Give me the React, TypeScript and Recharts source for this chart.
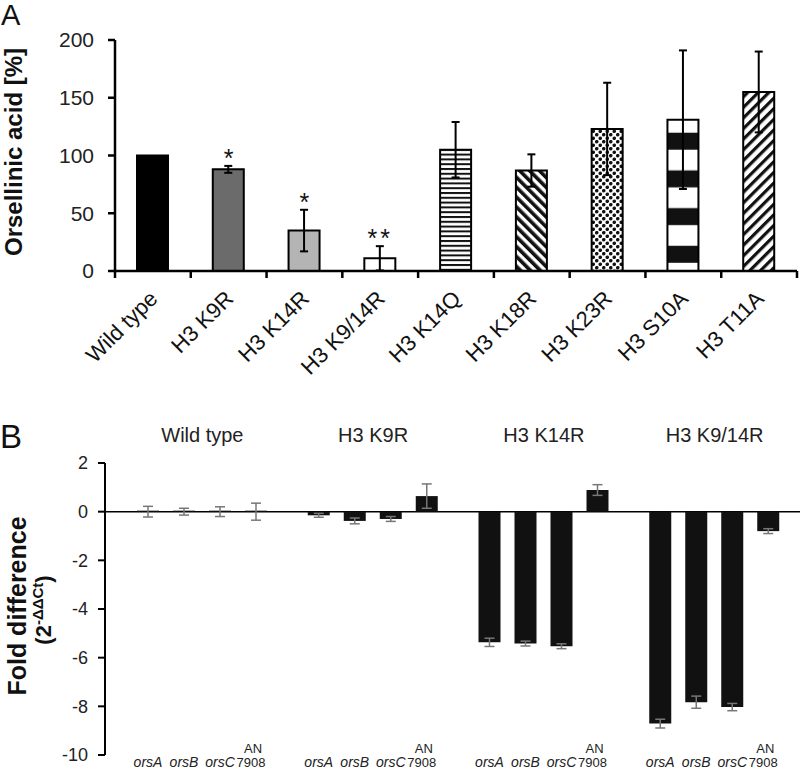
import React from "react";
import {
  ComposedChart,
  Bar,
  Line,
  XAxis,
  YAxis,
  ErrorBar,
  Cell,
  LabelList,
  CartesianGrid,
} from "recharts";

// panel A: orsellinic acid per strain
const strains = [
  "Wild type",
  "H3 K9R",
  "H3 K14R",
  "H3 K9/14R",
  "H3 K14Q",
  "H3 K18R",
  "H3 K23R",
  "H3 S10A",
  "H3 T11A",
];
const orsellinic = [100, 88, 35, 11, 105, 87, 123, 131, 155];
const orsellinicErr = [0, 3, 18, 10.5, 24, 14, 40, 60, 35];
const significance = ["", "*", "*", "**", "", "", "", "", ""];
const yTicksA = [0, 50, 100, 150, 200];

// panel B: fold difference per gene
const groups = ["Wild type", "H3 K9R", "H3 K14R", "H3 K9/14R"];
const orsA = [0, -0.15, -5.37, -8.71];
const orsAErr = [0.22, 0.08, 0.17, 0.18];
const orsB = [0, -0.38, -5.42, -7.83];
const orsBErr = [0.14, 0.12, 0.1, 0.25];
const orsC = [0, -0.3, -5.53, -8.03];
const orsCErr = [0.2, 0.1, 0.1, 0.15];
const an7908 = [0, 0.64, 0.89, -0.8];
const an7908Err = [0.35, 0.5, 0.22, 0.1];
const yTicksB = [2, 0, -2, -4, -6, -8, -10];

const FONT = "'Liberation Sans', Arial, sans-serif";

const fillsA = [
  "#000",
  "#6b6b6b",
  "#b4b4b4",
  "#fff",
  "url(#hstripe)",
  "url(#diagDown)",
  "url(#dots)",
  "url(#bands)",
  "url(#diagUp)",
];

const dataA = strains.map((name, i) => ({
  name,
  value: orsellinic[i],
  err: orsellinicErr[i],
  sigTop: significance[i] ? orsellinic[i] + orsellinicErr[i] : null,
}));

const dataB = groups.map((group, i) => ({
  group,
  orsA: orsA[i],
  orsAErr: orsAErr[i],
  orsB: orsB[i],
  orsBErr: orsBErr[i],
  orsC: orsC[i],
  orsCErr: orsCErr[i],
  an7908: an7908[i],
  an7908Err: an7908Err[i],
}));

const A_W = 800;
const A_LEFT = 115;
const A_RIGHT = 3;
const bandA = (A_W - A_LEFT - A_RIGHT) / strains.length;

function StrainTick(props: any) {
  const { x, y, payload, index } = props;
  const last = index === strains.length - 1;
  return (
    <g>
      <line x1={x - bandA / 2} x2={x - bandA / 2} y1={y} y2={y + 7} stroke="#000" strokeWidth={2.5} />
      {last && <line x1={x + bandA / 2} x2={x + bandA / 2} y1={y} y2={y + 7} stroke="#000" strokeWidth={2.5} />}
      <g transform={`translate(${x + 6},${y + 29})`}>
        <text transform="rotate(-45)" textAnchor="end" fontSize={22} fill="#111" fontFamily={FONT}>
          {payload.value}
        </text>
      </g>
    </g>
  );
}

function SigLabel(props: any) {
  const vb = props.viewBox ?? props;
  const idx = props.index;
  const text = significance[idx];
  if (!text || vb.y == null || isNaN(vb.y)) return null;
  return (
    <text
      x={vb.x}
      y={vb.y + 1}
      textAnchor="middle"
      fontSize={25}
      letterSpacing={text.length > 1 ? 3 : 0}
      fill="#111"
      fontFamily={FONT}
    >
      {text}
    </text>
  );
}

function YLabelA() {
  return (
    <text
      transform="translate(22,152) rotate(-90)"
      textAnchor="middle"
      fontSize={24}
      fontWeight="bold"
      fill="#111"
      fontFamily={FONT}
    >
      Orsellinic acid [%]
    </text>
  );
}

function YLabelB() {
  return (
    <g>
      <text
        transform="translate(26,186) rotate(-90)"
        textAnchor="middle"
        fontSize={25}
        fontWeight="bold"
        fill="#111"
        fontFamily={FONT}
      >
        Fold difference
      </text>
      <text
        transform="translate(51,190) rotate(-90)"
        textAnchor="middle"
        fontSize={22}
        fontWeight="bold"
        fill="#111"
        fontFamily={FONT}
      >
        (2
        <tspan fontSize={15} dy={-8}>
          -ΔΔCt
        </tspan>
        <tspan dy={8}>)</tspan>
      </text>
    </g>
  );
}

function GroupTick(props: any) {
  const { x, payload } = props;
  return (
    <text x={x} y={22} textAnchor="middle" fontSize={20} fill="#222" fontFamily={FONT}>
      {payload.value}
    </text>
  );
}

function geneLabel(name: string) {
  return (props: any) => {
    const vb = props.viewBox ?? props;
    const cx = vb.x + vb.width / 2;
    if (name === "AN7908") {
      return (
        <g fontFamily={FONT} fill="#222" fontSize={13} textAnchor="middle">
          <text x={cx - 3} y={333}>AN</text>
          <text x={cx - 5} y={347}>7908</text>
        </g>
      );
    }
    return (
      <text x={cx} y={347} textAnchor="middle" fontSize={14} fontStyle="italic" fill="#222" fontFamily={FONT}>
        {name}
      </text>
    );
  };
}

const seriesB = [
  { key: "orsA", label: "orsA" },
  { key: "orsB", label: "orsB" },
  { key: "orsC", label: "orsC" },
  { key: "an7908", label: "AN7908" },
];

export default function App() {
  return (
    <div
      style={{
        position: "absolute",
        left: 0,
        top: 0,
        width: 800,
        height: 774,
        background: "#fff",
        fontFamily: FONT,
        overflow: "hidden",
      }}
    >
      <div style={{ position: "absolute", left: 1, top: 1, fontSize: 29, lineHeight: 1, color: "#111" }}>A</div>
      <div style={{ position: "absolute", left: 0, top: 420, fontSize: 33, lineHeight: 1, color: "#111" }}>B</div>

      <div style={{ position: "absolute", left: 0, top: 0 }}>
        <ComposedChart
          width={A_W}
          height={400}
          data={dataA}
          margin={{ top: 40, right: A_RIGHT, left: 0, bottom: 0 }}
          barCategoryGap="30%"
        >
          <defs>
            <pattern id="hstripe" patternUnits="userSpaceOnUse" width="6" height="4.8">
              <rect width="6" height="4.8" fill="#fff" />
              <rect width="6" height="2" fill="#111" />
            </pattern>
            <pattern id="diagDown" patternUnits="userSpaceOnUse" width="7" height="7" patternTransform="rotate(-45)">
              <rect width="7" height="7" fill="#fff" />
              <rect width="3.6" height="7" fill="#111" />
            </pattern>
            <pattern id="diagUp" patternUnits="userSpaceOnUse" width="7.5" height="7.5" patternTransform="rotate(45)">
              <rect width="7.5" height="7.5" fill="#fff" />
              <rect width="3.2" height="7.5" fill="#111" />
            </pattern>
            <pattern id="dots" patternUnits="userSpaceOnUse" width="7" height="7">
              <rect width="7" height="7" fill="#fff" />
              <circle cx="1.75" cy="1.75" r="1.8" fill="#111" />
              <circle cx="5.25" cy="5.25" r="1.8" fill="#111" />
            </pattern>
            <pattern id="bands" patternUnits="userSpaceOnUse" width="10" height="37.7">
              <rect width="10" height="37.7" fill="#fff" />
              <rect y="19.6" width="10" height="17" fill="#111" />
            </pattern>
          </defs>
          <XAxis
            dataKey="name"
            height={129}
            interval={0}
            axisLine={{ stroke: "#000", strokeWidth: 2.5 }}
            tickLine={false}
            tickSize={0}
            tickMargin={0}
            tick={<StrainTick />}
          />
          <YAxis
            width={A_LEFT}
            domain={[0, 200]}
            ticks={yTicksA}
            interval={0}
            axisLine={{ stroke: "#000", strokeWidth: 2.5 }}
            tickLine={{ stroke: "#000", strokeWidth: 2.5 }}
            tickSize={7}
            tickMargin={14}
            tick={{ fontSize: 21, fill: "#222", fontFamily: FONT }}
            label={<YLabelA />}
          />
          <Bar dataKey="value" barSize={31} stroke="#000" strokeWidth={2} isAnimationActive={false}>
            {dataA.map((d, i) => (
              <Cell key={d.name} fill={fillsA[i]} />
            ))}
            <ErrorBar dataKey="err" width={4} stroke="#000" strokeWidth={2} />
          </Bar>
          <Line
            dataKey="sigTop"
            stroke="none"
            dot={false}
            activeDot={false}
            isAnimationActive={false}
            label={<SigLabel />}
          />
        </ComposedChart>
      </div>

      <div style={{ position: "absolute", left: 0, top: 420 }}>
        <ComposedChart
          width={800}
          height={354}
          data={dataB}
          margin={{ top: 13, right: 0, left: 0, bottom: 19 }}
          barGap={14}
        >
          <CartesianGrid vertical={false} horizontalValues={[0]} stroke="#000" strokeWidth={1.5} />
          <XAxis
            dataKey="group"
            orientation="top"
            height={30}
            interval={0}
            padding={{ left: 12, right: 0 }}
            axisLine={false}
            tickLine={false}
            tickSize={0}
            tick={<GroupTick />}
          />
          <YAxis
            width={105}
            domain={[-10, 2]}
            ticks={yTicksB}
            interval={0}
            axisLine={{ stroke: "#000", strokeWidth: 2 }}
            tickLine={{ stroke: "#000", strokeWidth: 2 }}
            tickSize={7}
            tickMargin={10}
            tick={{ fontSize: 18, fill: "#222", fontFamily: FONT }}
            label={<YLabelB />}
          />
          {seriesB.map((s) => (
            <Bar key={s.key} dataKey={s.key} fill="#111" barSize={22} minPointSize={1} isAnimationActive={false}>
              <ErrorBar dataKey={`${s.key}Err`} width={5} stroke="#777" strokeWidth={1.5} />
              <LabelList content={geneLabel(s.label)} />
            </Bar>
          ))}
        </ComposedChart>
      </div>
    </div>
  );
}
